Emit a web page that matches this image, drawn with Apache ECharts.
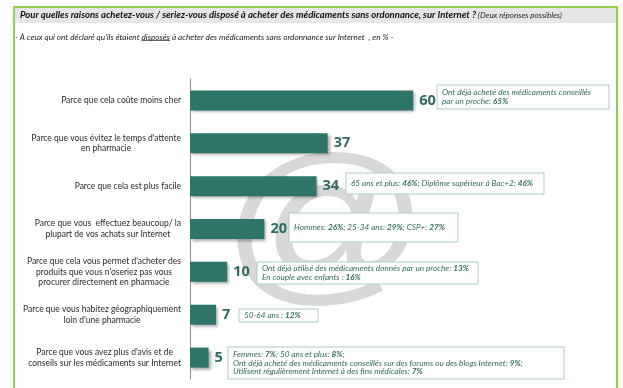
<!DOCTYPE html>
<html>
<head>
<meta charset="utf-8">
<script src="https://cdn.jsdelivr.net/npm/echarts@6/dist/echarts.min.js"></script>
<style>
    html, body { margin: 0; padding: 0; background: #fff; }
    #main { width: 623px; height: 388px; }
</style>
</head>
<body>
<div id="main"></div>
<script>
// données
var categories = [
    'Parce que cela coûte moins cher',
    "Parce que vous évitez le temps d'attente\nen pharmacie",
    'Parce que cela est plus facile',
    'Parce que vous  effectuez beaucoup/ la\nplupart de vos achats sur Internet',
    "Parce que cela vous permet d'acheter des\nproduits que vous n'oseriez pas vous\nprocurer directement en pharmacie",
    'Parce que vous habitez géographiquement\nloin d\'une pharmacie',
    "Parce que vous avez plus d'avis et de\nconseils sur les médicaments sur Internet"
];
var values = [60, 37, 34, 20, 10, 7, 5];
var notes = [
    'Ont déjà acheté des médicaments conseillés\npar un proche: {b|65%}',
    '65 ans et plus: {b|46%}; Diplôme supérieur à Bac+2: {b|46%}',
    'Hommes: {b|26%}; 25-34 ans: {b|29%}; CSP+: {b|27%}',
    'Ont déjà utilisé des médicaments donnés par un proche: {b|13%}\nEn couple avec enfants : {b|16%}',
    '50-64 ans : {b|12%}',
    'Femmes: {b|7%}; 50 ans et plus: {b|8%};\nOnt déjà acheté des médicaments conseillés sur des forums ou des blogs Internet: {b|9%};\nUtilisent régulièrement Internet à des fins médicales: {b|7%}'
];
var titleBold = 'Pour quelles raisons achetez-vous / seriez-vous disposé à acheter des médicaments sans ordonnance, sur Internet ?';
var titleNormal = ' (Deux réponses possibles)';
var subPre = "- À ceux qui ont déclaré qu'ils étaient ";
var subWord = 'disposés';
var subPost = ' à acheter des médicaments sans ordonnance sur Internet  , en % -';

// boîtes des commentaires [x, y, largeur, hauteur]
var boxes = [
    [437, 85, 172, 24],
    [346, 173, 198, 21],
    [289, 213, 169, 29],
    [257, 262, 221, 22],
    [239, 309, 79, 13],
    [228, 347, 336, 32]
];
// emprise du filigrane @ [gauche, haut, droite, bas]
var atBox = [237, 152, 413, 307];

var teal = '#2e7469';
var textTeal = '#2f6b63';
var subFont = 'italic 8.2px Lato';
var atFont = '195px Liberation Sans';

var ctx = document.createElement('canvas').getContext('2d');
// position du soulignement de "disposés"
ctx.font = subFont;
var uX = 15 + ctx.measureText(subPre).width;
var uW = ctx.measureText(subWord).width;
// taille du @
ctx.font = atFont;
ctx.textBaseline = 'middle';
ctx.textAlign = 'left';
var m = ctx.measureText('@');
var atSx = (atBox[2] - atBox[0]) / (m.actualBoundingBoxLeft + m.actualBoundingBoxRight);
var atSy = (atBox[3] - atBox[1]) / (m.actualBoundingBoxAscent + m.actualBoundingBoxDescent);
var atX = atBox[0] + atSx * m.actualBoundingBoxLeft;
var atY = atBox[1] + atSy * m.actualBoundingBoxAscent;

var graphics = [
    // cadre vert
    { type: 'rect', z: 0, shape: { x: 14, y: 7, width: 603, height: 390 },
      style: { fill: '#fff', stroke: '#92d050', lineWidth: 2 } },
    // bandeau titre
    { type: 'rect', z: 1, shape: { x: 15, y: 8, width: 601, height: 15 },
      style: { fill: '#e6e6e6' } },
    { type: 'text', z: 2, left: 20, top: 10,
      style: { text: '{b|' + titleBold + '}{n|' + titleNormal + '}',
          rich: {
              b: { fontFamily: 'Lato', fontSize: 9.5, fontWeight: 'bold', fontStyle: 'italic', fill: '#111' },
              n: { fontFamily: 'Lato', fontSize: 8, fontStyle: 'italic', fill: '#222' }
          } } },
    { type: 'text', z: 2, x: 15, y: 37,
      style: { text: subPre + subWord + subPost, font: subFont, fill: '#222', verticalAlign: 'middle' } },
    { type: 'line', z: 2, shape: { x1: uX, y1: 40.5, x2: uX + uW, y2: 40.5 },
      style: { stroke: '#222', lineWidth: 0.7 } },
    // arobase en filigrane
    { type: 'text', z: 1, x: atX, y: atY, scaleX: atSx, scaleY: atSy,
      style: { text: '@', font: atFont, fill: '#d8d8d8', align: 'left', verticalAlign: 'middle' } }
];

for (var i = 0; i < boxes.length; i++) {
    var b = boxes[i];
    graphics.push({ type: 'rect', z: 3, shape: { x: b[0], y: b[1], width: b[2], height: b[3] },
        style: { fill: '#fff', stroke: '#a9cbc5', lineWidth: 1 } });
    graphics.push({ type: 'text', z: 4, x: b[0] + 5, y: b[1] + b[3] / 2,
        style: { text: notes[i], fontFamily: 'Lato', fontSize: 8.2, fontStyle: 'italic',
            fill: textTeal, verticalAlign: 'middle', lineHeight: 8.8,
            rich: { b: { fontFamily: 'Lato', fontSize: 8.2, fontStyle: 'italic', fontWeight: 'bold', fill: textTeal, lineHeight: 8.8 } } } });
}

var dom = document.getElementById('main');
var myChart = echarts.init(dom);

var option = {
    animation: false,
    graphic: graphics,
    grid: { left: 190, right: 61, top: 79, bottom: 9 },
    xAxis: {
        type: 'value',
        min: 0,
        max: 100,
        show: false
    },
    yAxis: {
        type: 'category',
        inverse: true,
        data: categories,
        axisLine: { lineStyle: { color: '#8c8c8c' } },
        axisTick: { length: 4, lineStyle: { color: '#8c8c8c' } },
        axisLabel: {
            margin: 9,
            formatter: function (v) { return '{c|' + v + '}'; },
            rich: {
                c: { align: 'center', fontFamily: 'Lato', fontSize: 8.5, color: '#2a2a2a', lineHeight: 10.5 }
            }
        }
    },
    series: [{
        type: 'bar',
        data: values,
        barWidth: 20,
        z: 5,
        itemStyle: {
            color: teal,
            shadowColor: 'rgba(0,0,0,0.35)',
            shadowBlur: 3,
            shadowOffsetX: 2,
            shadowOffsetY: 2
        },
        label: {
            show: true,
            position: 'right',
            distance: 6,
            fontFamily: 'Open Sans',
            fontSize: 14.5,
            fontWeight: 'bold',
            color: textTeal
        }
    }]
};

myChart.setOption(option);
</script>
</body>
</html>
